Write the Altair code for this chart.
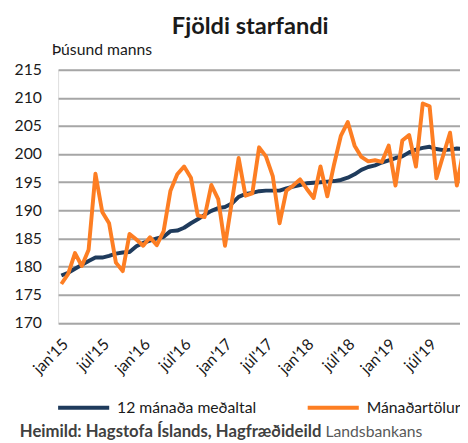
import altair as alt
import pandas as pd

# month index 0 = jan 2015
months = list(range(60))

avg12 = [178.4, 178.9, 179.6, 180.3, 181.0, 181.6, 181.6, 181.9, 182.3, 182.5,
         182.6, 183.6, 184.2, 184.6, 185.0, 185.3, 186.3, 186.4, 186.9, 187.7,
         188.4, 189.2, 189.9, 190.4, 190.6, 191.2, 192.4, 192.9, 193.1, 193.4,
         193.5, 193.5, 193.5, 193.9, 194.2, 194.5, 194.8, 194.9, 195.0, 195.1,
         195.2, 195.4, 195.8, 196.4, 197.2, 197.7, 198.0, 198.5, 198.9, 199.3,
         199.6, 200.3, 200.8, 201.1, 201.3, 200.9, 200.7, 200.8, 201.0, 200.9]

monthly = [176.9, 178.7, 182.4, 180.1, 183.0, 196.5, 189.7, 187.7, 180.7, 179.2,
           185.8, 184.8, 183.7, 185.2, 183.8, 186.3, 193.5, 196.4, 197.8, 195.8,
           189.1, 188.8, 194.5, 192.0, 183.7, 191.5, 199.3, 192.6, 193.0, 201.2,
           199.6, 196.1, 187.7, 193.5, 194.4, 195.5, 193.8, 192.2, 197.8, 192.5,
           198.2, 203.3, 205.7, 201.5, 199.5, 198.7, 198.9, 198.6, 201.5, 194.4,
           202.4, 203.4, 197.8, 209.0, 208.5, 195.7, 199.8, 203.8, 194.4, 201.0]

series_names = ["12 mánaða meðaltal", "Mánaðartölur"]
series_colors = ["#1f3b5c", "#fd7e23"]
tick_values = [0, 6, 12, 18, 24, 30, 36, 42, 48, 54]
y_ticks = [170, 175, 180, 185, 190, 195, 200, 205, 210, 215]
source_bold = "Heimild: Hagstofa Íslands, Hagfræðideild"
source_rest = "Landsbankans"

df = pd.DataFrame({
    "m": months * 2,
    "v": avg12 + monthly,
    "s": [series_names[0]] * 60 + [series_names[1]] * 60,
})

FONT = "Lato"

x_scale = alt.Scale(domain=[-0.475, 58.46], nice=False, zero=False)
y_scale = alt.Scale(domain=[170, 215], nice=False, zero=False)

lines = alt.Chart(df).mark_line(strokeWidth=4, clip=True, strokeJoin="round").encode(
    x=alt.X("m:Q", scale=x_scale,
            axis=alt.Axis(values=tick_values, title=None, grid=False, domain=False,
                          ticks=False, labelAngle=-45, labelAlign="right",
                          labelBaseline="middle", labelPadding=19, labelOffset=4,
                          labelFontSize=16, labelFont=FONT, labelColor="#1a1a1a",
                          labelExpr="(datum.value % 12 == 0 ? \"jan'\" : \"júl'\") + (15 + floor(datum.value / 12))")),
    y=alt.Y("v:Q", scale=y_scale,
            axis=alt.Axis(values=y_ticks, title="Þúsund manns", titleAngle=0,
                          titleAlign="left", titleBaseline="middle", titleX=-7, titleY=-21,
                          titleFont=FONT, titleFontSize=16, titleFontWeight="normal",
                          titleColor="#1a1a1a",
                          grid=True, gridColor="#a6a6a6", gridWidth=2, domain=False,
                          ticks=False, labelPadding=17, labelFontSize=16, labelFont=FONT,
                          labelColor="#1a1a1a")),
    color=alt.Color("s:N", scale=alt.Scale(domain=series_names, range=series_colors),
                    legend=alt.Legend(title=None, orient="none", direction="horizontal",
                                      legendX=-2, legendY=316, symbolType="stroke",
                                      symbolSize=2704, symbolStrokeWidth=4,
                                      labelFont=FONT, labelFontSize=16, labelColor="#1a1a1a",
                                      labelOffset=6, columnPadding=44, padding=0)),
    detail="s:N",
)

src = pd.DataFrame({"a": [source_bold], "b": [source_rest]})
src1 = alt.Chart(src).mark_text(align="left", baseline="middle", font=FONT, fontSize=17,
                                fontWeight="bold", color="#404040").encode(
    text="a:N", x=alt.value(-39), y=alt.value(369))
src2 = alt.Chart(src).mark_text(align="left", baseline="middle", font=FONT, fontSize=16,
                                color="#595959").encode(
    text="b:N", x=alt.value(272), y=alt.value(369))

chart = alt.layer(lines, src1, src2).properties(
    width=409, height=257.5,
    autosize=alt.AutoSizeParams(type="none"),
    padding={"left": 51, "top": 59, "right": 0, "bottom": 118},
    title=alt.Title("Fjöldi starfandi", font=FONT, fontSize=24, fontWeight="bold",
                    color="#1a1a1a", anchor="middle", dx=-9, offset=2),
).configure_view(stroke=None).configure(background="white")

chart.save("out.html", embed_options={"renderer": "svg", "actions": False})
